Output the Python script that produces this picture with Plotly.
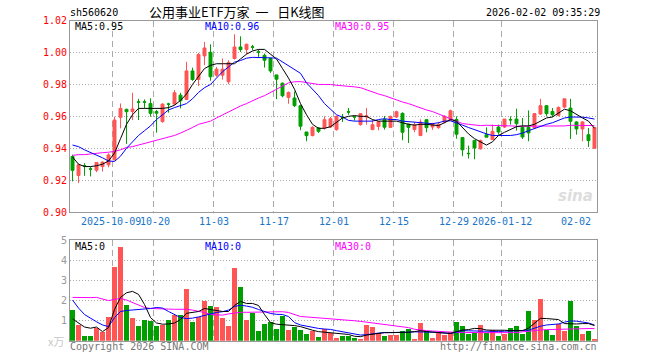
import plotly.graph_objects as go

# ---------------- data ----------------
dates = [
    "2025-09-22", "2025-09-23", "2025-09-24", "2025-09-25", "2025-09-26", "2025-09-29", "2025-09-30",
    "2025-10-09", "2025-10-10", "2025-10-13", "2025-10-14", "2025-10-15", "2025-10-16", "2025-10-17",
    "2025-10-20", "2025-10-21", "2025-10-22", "2025-10-23", "2025-10-24", "2025-10-27", "2025-10-28",
    "2025-10-29", "2025-10-30", "2025-10-31",
    "2025-11-03", "2025-11-04", "2025-11-05", "2025-11-06", "2025-11-07", "2025-11-10", "2025-11-11",
    "2025-11-12", "2025-11-13", "2025-11-14", "2025-11-17", "2025-11-18", "2025-11-19", "2025-11-20",
    "2025-11-21", "2025-11-24", "2025-11-25", "2025-11-26", "2025-11-27", "2025-11-28",
    "2025-12-01", "2025-12-02", "2025-12-03", "2025-12-04", "2025-12-05", "2025-12-08", "2025-12-09",
    "2025-12-10", "2025-12-11", "2025-12-12", "2025-12-15", "2025-12-16", "2025-12-17", "2025-12-18",
    "2025-12-19", "2025-12-22", "2025-12-23", "2025-12-24", "2025-12-25", "2025-12-26", "2025-12-29",
    "2025-12-30", "2025-12-31",
    "2026-01-05", "2026-01-06", "2026-01-07", "2026-01-08", "2026-01-09", "2026-01-12", "2026-01-13",
    "2026-01-14", "2026-01-15", "2026-01-16", "2026-01-19", "2026-01-20", "2026-01-21", "2026-01-22",
    "2026-01-23", "2026-01-26", "2026-01-27", "2026-01-28", "2026-01-29", "2026-01-30",
    "2026-02-02",
]

open_ = [0.9348, 0.9229, 0.9291, 0.9271, 0.9262, 0.9285, 0.9296, 0.9327, 0.9594, 0.9644,
         0.9630, 0.9691, 0.9691, 0.9680, 0.9630, 0.9567, 0.9678, 0.9677, 0.9733, 0.9706,
         0.9885, 0.9831, 0.9979, 1.0002, 0.9858, 0.9858, 0.9817, 0.9963, 1.0035, 1.0019,
         1.0036, 1.0005, 0.9983, 0.9963, 0.9860, 0.9808, 0.9719, 0.9715, 0.9667, 0.9502,
         0.9479, 0.9527, 0.9527, 0.9533, 0.9517, 0.9594, 0.9629, 0.9598, 0.9548, 0.9596,
         0.9517, 0.9536, 0.9581, 0.9531, 0.9596, 0.9619, 0.9551, 0.9517, 0.9480, 0.9579,
         0.9533, 0.9529, 0.9564, 0.9577, 0.9581, 0.9467, 0.9368, 0.9449, 0.9396, 0.9485,
         0.9454, 0.9533, 0.9533, 0.9580, 0.9583, 0.9531, 0.9531, 0.9527, 0.9615, 0.9667,
         0.9631, 0.9606, 0.9658, 0.9652, 0.9565, 0.9521, 0.9485, 0.9400]
high = [0.9360, 0.9302, 0.9306, 0.9285, 0.9313, 0.9317, 0.9369, 0.9598, 0.9681, 0.9648,
        0.9748, 0.9710, 0.9706, 0.9713, 0.9640, 0.9681, 0.9685, 0.9765, 0.9748, 0.9942,
        0.9905, 0.9998, 1.0067, 1.0052, 0.9910, 0.9963, 0.9952, 1.0115, 1.0102, 1.0056,
        1.0048, 1.0019, 0.9994, 0.9969, 0.9860, 0.9812, 0.9756, 0.9756, 0.9673, 0.9502,
        0.9538, 0.9533, 0.9600, 0.9596, 0.9604, 0.9615, 0.9652, 0.9600, 0.9621, 0.9652,
        0.9579, 0.9571, 0.9602, 0.9604, 0.9635, 0.9625, 0.9554, 0.9565, 0.9581, 0.9583,
        0.9560, 0.9565, 0.9607, 0.9642, 0.9600, 0.9467, 0.9417, 0.9449, 0.9454, 0.9531,
        0.9548, 0.9548, 0.9583, 0.9600, 0.9648, 0.9590, 0.9637, 0.9621, 0.9710, 0.9667,
        0.9652, 0.9662, 0.9710, 0.9710, 0.9569, 0.9569, 0.9527, 0.9533]
low = [0.9192, 0.9181, 0.9227, 0.9223, 0.9250, 0.9254, 0.9280, 0.9323, 0.9525, 0.9427,
       0.9577, 0.9577, 0.9650, 0.9598, 0.9498, 0.9560, 0.9623, 0.9671, 0.9650, 0.9702,
       0.9823, 0.9790, 0.9921, 0.9823, 0.9848, 0.9831, 0.9802, 0.9956, 1.0004, 0.9990,
       1.0015, 0.9973, 0.9906, 0.9873, 0.9708, 0.9720, 0.9679, 0.9658, 0.9513, 0.9444,
       0.9475, 0.9496, 0.9517, 0.9527, 0.9510, 0.9565, 0.9610, 0.9573, 0.9542, 0.9548,
       0.9513, 0.9513, 0.9517, 0.9527, 0.9590, 0.9450, 0.9433, 0.9500, 0.9475, 0.9500,
       0.9515, 0.9522, 0.9556, 0.9573, 0.9460, 0.9350, 0.9335, 0.9331, 0.9392, 0.9469,
       0.9454, 0.9485, 0.9527, 0.9548, 0.9510, 0.9458, 0.9444, 0.9525, 0.9610, 0.9600,
       0.9596, 0.9600, 0.9652, 0.9458, 0.9485, 0.9444, 0.9408, 0.9398]
close = [0.9261, 0.9296, 0.9289, 0.9269, 0.9311, 0.9313, 0.9358, 0.9577, 0.9650, 0.9629,
         0.9646, 0.9689, 0.9689, 0.9619, 0.9620, 0.9677, 0.9676, 0.9748, 0.9698, 0.9885,
         0.9831, 0.9988, 1.0029, 0.9848, 0.9896, 0.9896, 0.9938, 1.0035, 1.0019, 1.0052,
         1.0034, 1.0003, 0.9952, 0.9885, 0.9833, 0.9729, 0.9750, 0.9667, 0.9538, 0.9479,
         0.9531, 0.9506, 0.9579, 0.9585, 0.9600, 0.9592, 0.9627, 0.9596, 0.9617, 0.9602,
         0.9548, 0.9567, 0.9532, 0.9600, 0.9629, 0.9500, 0.9531, 0.9546, 0.9564, 0.9529,
         0.9552, 0.9550, 0.9600, 0.9635, 0.9488, 0.9390, 0.9366, 0.9402, 0.9448, 0.9469,
         0.9506, 0.9502, 0.9583, 0.9578, 0.9554, 0.9471, 0.9496, 0.9617, 0.9667, 0.9617,
         0.9610, 0.9656, 0.9710, 0.9569, 0.9521, 0.9565, 0.9448, 0.9531]

# volume, in 万
volume = [1.52, 0.78, 0.23, 0.23, 0.65, 0.41, 1.18, 3.66, 4.65, 1.77,
          1.13, 0.73, 1.03, 0.99, 0.73, 0.79, 1.03, 1.27, 1.27, 2.57,
          0.93, 1.19, 1.97, 1.72, 1.67, 1.14, 0.73, 3.61, 2.67, 1.03,
          1.39, 0.48, 0.83, 0.93, 0.58, 1.23, 0.53, 0.68, 0.53, 0.33,
          0.48, 0.18, 0.58, 0.40, 0.15, 0.23, 0.23, 0.15, 0.08, 0.78,
          0.68, 0.36, 0.23, 0.28, 0.28, 0.48, 0.58, 0.08, 0.88, 0.48,
          0.13, 0.40, 0.28, 0.43, 0.93, 0.73, 0.33, 0.38, 0.78, 0.38,
          0.53, 0.23, 0.33, 0.63, 0.73, 0.33, 1.47, 1.03, 2.07, 0.53,
          0.28, 0.83, 0.48, 1.97, 0.73, 0.33, 0.48, 0.08]

# moving averages as drawn on the chart
ma5 = [0.9345, 0.9300, 0.9285, 0.9285, 0.9290, 0.9300, 0.9320, 0.9370, 0.9460, 0.9550,
       0.9610, 0.9650, 0.9650, 0.9650, 0.9650, 0.9650, 0.9655, 0.9670, 0.9700, 0.9740,
       0.9800, 0.9850, 0.9900, 0.9920, 0.9930, 0.9930, 0.9930, 0.9930, 0.9960, 0.9990,
       1.0010, 1.0020, 1.0020, 0.9990, 0.9960, 0.9900, 0.9840, 0.9770, 0.9680, 0.9610,
       0.9550, 0.9525, 0.9525, 0.9535, 0.9560, 0.9590, 0.9600, 0.9605, 0.9600, 0.9600,
       0.9580, 0.9570, 0.9570, 0.9570, 0.9570, 0.9560, 0.9550, 0.9545, 0.9550, 0.9550,
       0.9545, 0.9542, 0.9560, 0.9580, 0.9570, 0.9530, 0.9490, 0.9460, 0.9440, 0.9420,
       0.9440, 0.9480, 0.9500, 0.9520, 0.9535, 0.9540, 0.9540, 0.9550, 0.9570, 0.9590,
       0.9596, 0.9620, 0.9645, 0.9635, 0.9610, 0.9590, 0.9570, 0.9525]
ma10 = [0.9420, 0.9410, 0.9390, 0.9375, 0.9360, 0.9340, 0.9320, 0.9317, 0.9350, 0.9400,
        0.9440, 0.9480, 0.9510, 0.9540, 0.9580, 0.9610, 0.9640, 0.9655, 0.9670, 0.9680,
        0.9710, 0.9750, 0.9780, 0.9800, 0.9840, 0.9880, 0.9910, 0.9940, 0.9950, 0.9965,
        0.9970, 0.9970, 0.9970, 0.9967, 0.9965, 0.9940, 0.9920, 0.9890, 0.9870, 0.9810,
        0.9770, 0.9730, 0.9680, 0.9645, 0.9610, 0.9595, 0.9575, 0.9570, 0.9570, 0.9570,
        0.9570, 0.9580, 0.9585, 0.9580, 0.9580, 0.9570, 0.9567, 0.9565, 0.9560, 0.9555,
        0.9554, 0.9560, 0.9570, 0.9572, 0.9560, 0.9545, 0.9530, 0.9515, 0.9505, 0.9490,
        0.9480, 0.9480, 0.9480, 0.9480, 0.9485, 0.9495, 0.9510, 0.9525, 0.9540, 0.9550,
        0.9560, 0.9575, 0.9590, 0.9596, 0.9596, 0.9595, 0.9590, 0.9583]
ma30 = [0.9355, 0.9360, 0.9360, 0.9365, 0.9370, 0.9372, 0.9375, 0.9380, 0.9390, 0.9405,
        0.9410, 0.9420, 0.9430, 0.9440, 0.9448, 0.9460, 0.9470, 0.9480, 0.9495, 0.9510,
        0.9530, 0.9550, 0.9560, 0.9570, 0.9590, 0.9610, 0.9630, 0.9650, 0.9665, 0.9680,
        0.9700, 0.9715, 0.9730, 0.9750, 0.9770, 0.9790, 0.9810, 0.9817, 0.9818, 0.9812,
        0.9805, 0.9800, 0.9800, 0.9800, 0.9795, 0.9793, 0.9790, 0.9785, 0.9780, 0.9765,
        0.9755, 0.9740, 0.9730, 0.9715, 0.9700, 0.9690, 0.9680, 0.9665, 0.9655, 0.9640,
        0.9630, 0.9615, 0.9600, 0.9580, 0.9570, 0.9555, 0.9550, 0.9545, 0.9542, 0.9544,
        0.9544, 0.9540, 0.9540, 0.9540, 0.9538, 0.9538, 0.9538, 0.9538, 0.9538, 0.9538,
        0.9538, 0.9540, 0.9540, 0.9544, 0.9544, 0.9544, 0.9544, 0.9542]

vma5 = [1.08, 0.86, 0.68, 0.62, 0.68, 0.45, 0.65, 1.55, 2.15, 2.38,
        2.45, 2.30, 1.80, 1.15, 0.88, 0.82, 0.83, 0.88, 1.05, 1.36,
        1.40, 1.45, 1.60, 1.55, 1.50, 1.45, 1.45, 1.75, 1.95, 1.85,
        1.85, 1.75, 1.30, 0.90, 0.82, 0.80, 0.78, 0.75, 0.70, 0.60,
        0.52, 0.45, 0.42, 0.40, 0.38, 0.36, 0.31, 0.22, 0.20, 0.28,
        0.33, 0.38, 0.40, 0.40, 0.40, 0.40, 0.42, 0.45, 0.50, 0.45,
        0.42, 0.40, 0.38, 0.36, 0.45, 0.53, 0.55, 0.61, 0.60, 0.53,
        0.52, 0.53, 0.52, 0.50, 0.50, 0.50, 0.62, 0.86, 1.11, 1.10,
        1.06, 1.05, 0.85, 0.83, 0.83, 0.85, 0.85, 0.75]
vma10 = [2.02, 1.62, 1.30, 1.10, 0.94, 0.78, 0.70, 1.15, 1.45, 1.50,
         1.52, 1.53, 1.56, 1.60, 1.65, 1.62, 1.45, 1.28, 1.15, 1.10,
         1.12, 1.18, 1.25, 1.35, 1.40, 1.44, 1.52, 1.70, 1.76, 1.72,
         1.66, 1.55, 1.45, 1.35, 1.31, 1.30, 1.20, 0.90, 0.78, 0.72,
         0.66, 0.61, 0.58, 0.56, 0.50, 0.45, 0.38, 0.33, 0.28, 0.30,
         0.35, 0.38, 0.40, 0.40, 0.40, 0.40, 0.42, 0.44, 0.45, 0.43,
         0.42, 0.41, 0.38, 0.36, 0.42, 0.50, 0.49, 0.48, 0.48, 0.46,
         0.45, 0.46, 0.47, 0.48, 0.48, 0.48, 0.52, 0.62, 0.72, 0.78,
         0.80, 0.83, 0.92, 0.98, 0.97, 0.94, 0.88, 0.78]
vma30 = [2.15, 2.14, 2.12, 2.14, 2.15, 2.08, 1.99, 2.05, 2.10, 2.02,
         1.90, 1.77, 1.65, 1.60, 1.58, 1.57, 1.57, 1.56, 1.56, 1.56,
         1.52, 1.47, 1.40, 1.30, 1.27, 1.27, 1.33, 1.38, 1.41, 1.41,
         1.41, 1.41, 1.41, 1.42, 1.43, 1.44, 1.40, 1.30, 1.20, 1.18,
         1.16, 1.14, 1.11, 1.10, 1.08, 1.06, 1.03, 0.99, 0.96, 0.92,
         0.89, 0.85, 0.80, 0.77, 0.74, 0.70, 0.65, 0.57, 0.52, 0.50,
         0.48, 0.46, 0.42, 0.41, 0.41, 0.41, 0.40, 0.40, 0.40, 0.40,
         0.40, 0.40, 0.40, 0.40, 0.40, 0.44, 0.48, 0.50, 0.53, 0.55,
         0.56, 0.58, 0.59, 0.60, 0.61, 0.61, 0.61, 0.61]

tick_dates = ["2025-10-09", "2025-10-20", "2025-11-03", "2025-11-17", "2025-12-01",
              "2025-12-15", "2025-12-29", "2026-01-12"]
tick_text = ["2025-10-09", "10-20", "11-03", "11-17", "12-01", "12-15", "12-29", "2026-01-12"]
last_label = "02-02"
price_ticks = [0.90, 0.92, 0.94, 0.96, 0.98, 1.00, 1.02]
vol_ticks = [1, 2, 3, 4, 5]

# ---------------- layout helpers ----------------
W, H = 660, 360
L, R = 70, 597
MT, MB = 20.7, 212.0
VT, VB = 240.0, 340.7
OFF = 0.42  # slot edge relative to candle centre

def px(x):
    return x / W

def py(y):
    return 1 - y / H

RED = "#ff5555"
GREEN = "#009f00"
BLUE_TXT = "#1a75c9"
MONO = "DejaVu Sans Mono, Liberation Mono, monospace"

idx = list(range(len(dates)))
vol_colors = [RED if c > o else GREEN for o, c in zip(open_, close)]

fig = go.Figure()
fig.add_trace(go.Candlestick(
    x=idx, open=open_, high=high, low=low, close=close,
    increasing=dict(line=dict(color=RED, width=1), fillcolor=RED),
    decreasing=dict(line=dict(color=GREEN, width=1), fillcolor=GREEN),
    whiskerwidth=0, xaxis="x", yaxis="y", hoverinfo="skip"))
for arr, col in [(ma30, "#ff00ff"), (ma10, "#0000ff"), (ma5, "#000000")]:
    fig.add_trace(go.Scatter(x=idx, y=arr, mode="lines", line=dict(color=col, width=1),
                             xaxis="x", yaxis="y", hoverinfo="skip"))

fig.add_trace(go.Bar(x=idx, y=volume, marker=dict(color=vol_colors, line=dict(width=0)),
                     width=0.83, xaxis="x2", yaxis="y2", hoverinfo="skip"))
for arr, col in [(vma30, "#ff00ff"), (vma10, "#0000ff"), (vma5, "#000000")]:
    fig.add_trace(go.Scatter(x=idx, y=arr, mode="lines", line=dict(color=col, width=1),
                             xaxis="x2", yaxis="y2", hoverinfo="skip"))

tickvals = [dates.index(d) - OFF for d in tick_dates]
xr = [-OFF, len(dates) - 1 + OFF]

common_x = dict(domain=[px(L), px(R)], range=xr, tickvals=tickvals, showgrid=True,
                gridcolor="#aaaaaa", griddash="6px,4px", gridwidth=1, zeroline=False,
                showline=True, mirror=True, linecolor="#999999", linewidth=1,
                ticks="", showticklabels=False, fixedrange=True, automargin=False)
common_y = dict(showgrid=True, gridcolor="#aaaaaa", griddash="1px,2px", zeroline=False,
                showline=True, mirror=True, linecolor="#999999", ticks="",
                fixedrange=True, automargin=False)

fig.update_layout(
    width=W, height=H, margin=dict(l=0, r=0, t=0, b=0, autoexpand=False),
    paper_bgcolor="white", plot_bgcolor="white", showlegend=False,
    bargap=0, boxgap=0.3,
    xaxis=dict(**common_x, anchor="y", rangeslider=dict(visible=False)),
    xaxis2=dict(**common_x, anchor="y2", matches="x"),
    yaxis=dict(**common_y, domain=[py(MB), py(MT)], range=[0.90, 1.02], tickvals=price_ticks,
               ticktext=[f"{v:.2f}" for v in price_ticks],
               tickfont=dict(family=MONO, size=10, color="#ff0000")),
    yaxis2=dict(**common_y, domain=[py(VB), py(VT)], range=[0, 5], tickvals=vol_ticks,
                ticktext=[str(v) for v in vol_ticks],
                tickfont=dict(family=MONO, size=10, color="#999999")),
)

def note(text, x, y, color="#000000", size=10, family=MONO, anchor="left", **kw):
    fig.add_annotation(text=text, x=px(x), y=py(y), xref="paper", yref="paper",
                       xanchor=anchor, yanchor="middle", showarrow=False,
                       font=dict(family=family, size=size, color=color), borderpad=0, **kw)

# date labels under the price panel
label_shift = [-1, 1, 0, 0, 0, 0, 0, 0]
for tv, tt, sh in zip(tickvals, tick_text, label_shift):
    fig.add_annotation(text=tt, x=tv, y=py(221), xref="x", yref="paper", xanchor="center",
                       yanchor="middle", showarrow=False, borderpad=0, xshift=sh,
                       font=dict(family=MONO, size=10, color=BLUE_TXT))
fig.add_annotation(text=last_label, x=len(dates) - 1 - OFF, y=py(221), xref="x", yref="paper",
                   xanchor="right", yanchor="middle", showarrow=False, borderpad=0,
                   font=dict(family=MONO, size=10, color=BLUE_TXT))

note("sh560620", 69, 12.5)
note("公用事业ETF万家\u00a0\u00a0一\u00a0\u00a0\u00a0日K线图", 237, 12, size=13,
     family="Noto Sans CJK SC", anchor="center")
note("2026-02-02 09:35:29", 601, 12.5, anchor="right")

note(f"MA5:{ma5[-1]:.2f}", 74, 26.5)
note(f"MA10:{ma10[-1]:.2f}", 204, 26.5, color="#0000ff")
note(f"MA30:{ma30[-1]:.2f}", 334, 26.5, color="#ff00ff")

note("MA5:0", 74, 246)
note("MA10:0", 204, 246, color="#0000ff")
note("MA30:0", 334, 246, color="#ff00ff")

note("x万", 47, 341, color="#c8c8c8", size=11, family="Noto Sans CJK SC")
note("Copyright 2026 SINA.COM", 69, 346, color="#777777")
note("http://finance.sina.com.cn", 598, 346, color="#777777", anchor="right")
note("<i><b>sina</b></i>", 594, 196, color="#dddddd", size=15, family="Verdana, DejaVu Sans", anchor="right")

fig.write_html("out.html", config={"displayModeBar": False},
               post_script="document.body.style.margin='0px';")
